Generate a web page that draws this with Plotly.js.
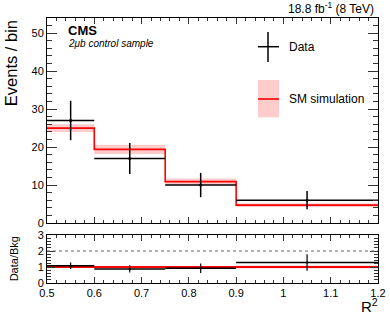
<!DOCTYPE html>
<html>
<head>
<meta charset="utf-8">
<script src="https://cdn.plot.ly/plotly-3.0.1.min.js"></script>
<style>html,body{margin:0;padding:0;background:#fff;}#chart{width:390px;height:314px;}</style>
</head>
<body>
<div id="chart"></div>
<script>
const binEdges = [0.5, 0.6, 0.75, 0.9, 1.2];
const binCenters = [0.55, 0.675, 0.825, 1.05];
const binHalfWidths = [0.05, 0.075, 0.075, 0.15];
const dataCounts = [27, 17, 10, 6];
const dataErr = [5.2, 4.1, 3.2, 2.4];
const simCounts = [25, 19.4, 10.9, 4.7];
const simErr = [1.0, 1.2, 0.8, 0.5];
const ratioVals = [1.08, 0.88, 0.92, 1.28];
const ratioErr = [0.21, 0.23, 0.3, 0.52];
const ratioSim = [1, 1, 1, 1];
const ratioSimErr = [0.04, 0.06, 0.07, 0.1];
const yTicksTop = [0, 10, 20, 30, 40, 50];
const yTicksRatio = [0, 1, 2, 3];

const FONT = 'Liberation Sans, Arial, Helvetica, sans-serif';
const RED = '#ff0000';
const BAND = 'rgba(255,0,0,0.2)';

function stepY(arr) { return arr.concat([arr[arr.length - 1]]); }
const simLo = simCounts.map((v, i) => v - simErr[i]);
const simHi = simCounts.map((v, i) => v + simErr[i]);
const rLo = ratioSim.map((v, i) => v - ratioSimErr[i]);
const rHi = ratioSim.map((v, i) => v + ratioSimErr[i]);

const traces = [
  {x: binEdges, y: stepY(simLo), xaxis: 'x2', yaxis: 'y', mode: 'lines', line: {shape: 'hv', width: 0, color: BAND}, hoverinfo: 'skip', showlegend: false},
  {x: binEdges, y: stepY(simHi), xaxis: 'x2', yaxis: 'y', mode: 'lines', fill: 'tonexty', fillcolor: BAND, line: {shape: 'hv', width: 0, color: BAND}, hoverinfo: 'skip', showlegend: false},
  {x: binEdges, y: stepY(simCounts), xaxis: 'x2', yaxis: 'y', mode: 'lines', line: {shape: 'hv', width: 1.6, color: RED}, showlegend: false},
  {x: binCenters, y: dataCounts, xaxis: 'x2', yaxis: 'y', mode: 'markers', marker: {size: 3, color: 'black'},
   error_x: {type: 'data', array: binHalfWidths, width: 0, thickness: 1.6, color: 'black'},
   error_y: {type: 'data', array: dataErr, width: 0, thickness: 1.5, color: 'black'}, showlegend: false},
  {x: binEdges, y: stepY(rLo), xaxis: 'x', yaxis: 'y2', mode: 'lines', line: {shape: 'hv', width: 0, color: BAND}, hoverinfo: 'skip', showlegend: false},
  {x: binEdges, y: stepY(rHi), xaxis: 'x', yaxis: 'y2', mode: 'lines', fill: 'tonexty', fillcolor: BAND, line: {shape: 'hv', width: 0, color: BAND}, hoverinfo: 'skip', showlegend: false},
  {x: binEdges, y: stepY(ratioSim), xaxis: 'x', yaxis: 'y2', mode: 'lines', line: {shape: 'hv', width: 2.2, color: RED}, showlegend: false},
  {x: binCenters, y: ratioVals, xaxis: 'x', yaxis: 'y2', mode: 'markers', marker: {size: 2, color: 'black'},
   error_x: {type: 'data', array: binHalfWidths, width: 0, thickness: 1.6, color: 'black'},
   error_y: {type: 'data', array: ratioErr, width: 0, thickness: 1.2, color: 'black'}, showlegend: false}
];

const axCommon = {showline: true, linecolor: 'black', linewidth: 1, mirror: 'allticks', ticks: 'inside',
  tickcolor: '#333', showgrid: false, zeroline: false, tickfont: {family: FONT, size: 11, color: 'black'}};

const layout = {
  width: 390, height: 314,
  margin: {l: 47, r: 12, t: 18, b: 31},
  paper_bgcolor: 'white', plot_bgcolor: 'white',
  showlegend: false,
  font: {family: FONT, color: 'black'},
  xaxis: Object.assign({}, axCommon, {anchor: 'y2', range: [0.5, 1.2], tick0: 0.5, dtick: 0.1, ticklen: 6,
    minor: {ticks: 'inside', dtick: 0.02, ticklen: 3, tickcolor: '#333', showgrid: false}}),
  xaxis2: Object.assign({}, axCommon, {anchor: 'y', matches: 'x', range: [0.5, 1.2], tick0: 0.5, dtick: 0.1, ticklen: 6, showticklabels: false,
    minor: {ticks: 'inside', dtick: 0.02, ticklen: 3, tickcolor: '#333', showgrid: false}}),
  yaxis: Object.assign({}, axCommon, {domain: [0.2264, 1], range: [0, 54], tickvals: yTicksTop, ticklen: 10,
    minor: {ticks: 'inside', dtick: 2, ticklen: 5, tickcolor: '#333', showgrid: false}}),
  yaxis2: Object.assign({}, axCommon, {domain: [0, 0.181], range: [0, 3], tickvals: yTicksRatio, ticklen: 8,
    minor: {ticks: 'inside', dtick: 0.2, ticklen: 4, tickcolor: '#333', showgrid: false}}),
  shapes: [
    {type: 'line', xref: 'x', yref: 'y2', x0: 0.5, x1: 1.2, y0: 2, y1: 2, line: {color: '#666', width: 1, dash: 'dot'}},
    {type: 'line', xref: 'paper', yref: 'paper', x0: 0.6375, x1: 0.7009, y0: 0.8917, y1: 0.8917, line: {color: 'black', width: 1.5}},
    {type: 'line', xref: 'paper', yref: 'paper', x0: 0.6677, x1: 0.6677, y0: 0.834, y1: 0.9472, line: {color: 'black', width: 1.5}},
    {type: 'rect', xref: 'paper', yref: 'paper', x0: 0.6375, x1: 0.7009, y0: 0.6253, y1: 0.766, fillcolor: BAND, line: {width: 0}},
    {type: 'line', xref: 'paper', yref: 'paper', x0: 0.6375, x1: 0.7009, y0: 0.6943, y1: 0.6943, line: {color: RED, width: 1.6}}
  ],
  annotations: [
    {xref: 'paper', yref: 'paper', x: 0.7251, y: 0.8917, xanchor: 'left', yanchor: 'middle', showarrow: false, text: 'Data', font: {family: FONT, size: 12}},
    {xref: 'paper', yref: 'paper', x: 0.7251, y: 0.6943, xanchor: 'left', yanchor: 'middle', showarrow: false, text: 'SM simulation', font: {family: FONT, size: 12}},
    {xref: 'paper', yref: 'paper', x: 0.0574, y: 0.9547, xanchor: 'left', yanchor: 'middle', showarrow: false, text: '<b>CMS</b>', font: {family: FONT, size: 13}},
    {xref: 'paper', yref: 'paper', x: 0.0574, y: 0.9019, xanchor: 'left', yanchor: 'middle', showarrow: false, text: '<i>2\u03BCb control sample</i>', font: {family: FONT, size: 10}},
    {xref: 'paper', yref: 'paper', x: 0.995, y: 1.0, xanchor: 'right', yanchor: 'bottom', showarrow: false, text: '18.8 fb<sup>-1</sup> (8 TeV)', font: {family: FONT, size: 12}},
    {xref: 'paper', yref: 'paper', x: -0.075, y: 1.0, xanchor: 'right', yanchor: 'top', textangle: -90, showarrow: false, text: 'Events / bin', font: {family: FONT, size: 16.5}},
    {xref: 'paper', yref: 'paper', x: -0.075, y: 0.09, xanchor: 'right', yanchor: 'middle', textangle: -90, showarrow: false, text: 'Data/Bkg', font: {family: FONT, size: 11}},
    {xref: 'paper', yref: 'paper', x: 1.005, y: -0.043, xanchor: 'right', yanchor: 'top', showarrow: false, text: 'R<sup>2</sup>', font: {family: FONT, size: 15}}
  ]
};

Plotly.newPlot('chart', traces, layout, {staticPlot: true, displayModeBar: false});
</script>
</body>
</html>
